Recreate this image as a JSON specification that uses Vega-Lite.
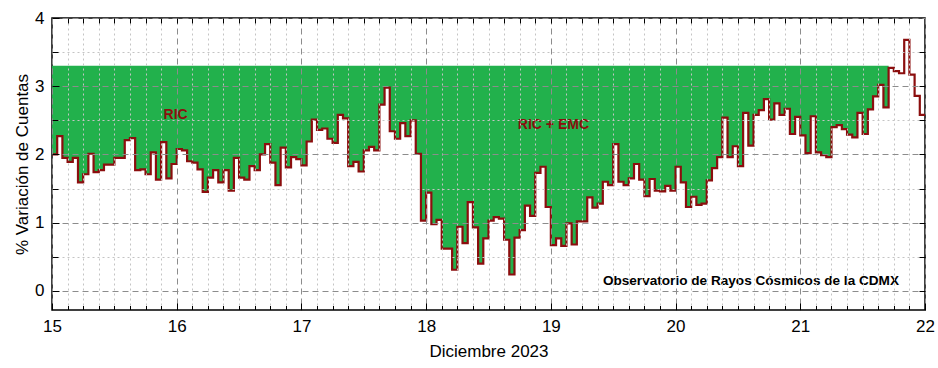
{
  "$schema": "https://vega.github.io/schema/vega-lite/v6.json",
  "width": 873,
  "height": 292,
  "autosize": {"type": "none"},
  "padding": {"left": 52, "top": 18, "right": 13, "bottom": 58},
  "background": "white",
  "config": {
    "view": {"stroke": "black", "strokeWidth": 1.5},
    "font": "Liberation Sans",
    "axis": {
      "labelFont": "Liberation Sans",
      "titleFont": "Liberation Sans",
      "labelFontSize": 17,
      "titleFontSize": 17,
      "labelColor": "black",
      "titleColor": "black",
      "titleFontWeight": "normal",
      "tickColor": "black",
      "tickWidth": 1,
      "domain": false
    }
  },
  "datasets": {
    "cr": [
      {"h": 0, "v": 2.00}, {"h": 1, "v": 2.27}, {"h": 2, "v": 1.95}, {"h": 3, "v": 1.89}, {"h": 4, "v": 1.95}, {"h": 5, "v": 1.59},
      {"h": 6, "v": 1.71}, {"h": 7, "v": 2.01}, {"h": 8, "v": 1.74}, {"h": 9, "v": 1.77}, {"h": 10, "v": 1.85}, {"h": 11, "v": 1.85},
      {"h": 12, "v": 1.95}, {"h": 13, "v": 1.95}, {"h": 14, "v": 2.21}, {"h": 15, "v": 2.24}, {"h": 16, "v": 1.77}, {"h": 17, "v": 1.78},
      {"h": 18, "v": 1.71}, {"h": 19, "v": 2.03}, {"h": 20, "v": 1.63}, {"h": 21, "v": 2.18}, {"h": 22, "v": 1.65}, {"h": 23, "v": 1.86},
      {"h": 24, "v": 2.08}, {"h": 25, "v": 2.06}, {"h": 26, "v": 1.90}, {"h": 27, "v": 1.88}, {"h": 28, "v": 1.78}, {"h": 29, "v": 1.45},
      {"h": 30, "v": 1.66}, {"h": 31, "v": 1.77}, {"h": 32, "v": 1.59}, {"h": 33, "v": 1.77}, {"h": 34, "v": 1.47}, {"h": 35, "v": 1.95},
      {"h": 36, "v": 1.66}, {"h": 37, "v": 1.63}, {"h": 38, "v": 1.83}, {"h": 39, "v": 1.77}, {"h": 40, "v": 2.00}, {"h": 41, "v": 2.15},
      {"h": 42, "v": 1.88}, {"h": 43, "v": 1.55}, {"h": 44, "v": 2.10}, {"h": 45, "v": 1.81}, {"h": 46, "v": 1.96}, {"h": 47, "v": 1.93},
      {"h": 48, "v": 1.84}, {"h": 49, "v": 2.19}, {"h": 50, "v": 2.51}, {"h": 51, "v": 2.36}, {"h": 52, "v": 2.38}, {"h": 53, "v": 2.23},
      {"h": 54, "v": 2.17}, {"h": 55, "v": 2.58}, {"h": 56, "v": 2.53}, {"h": 57, "v": 1.83}, {"h": 58, "v": 1.89}, {"h": 59, "v": 1.75},
      {"h": 60, "v": 2.06}, {"h": 61, "v": 2.11}, {"h": 62, "v": 2.06}, {"h": 63, "v": 2.73}, {"h": 64, "v": 2.98}, {"h": 65, "v": 2.34},
      {"h": 66, "v": 2.23}, {"h": 67, "v": 2.46}, {"h": 68, "v": 2.27}, {"h": 69, "v": 2.50}, {"h": 70, "v": 2.01}, {"h": 71, "v": 1.03},
      {"h": 72, "v": 1.44}, {"h": 73, "v": 0.98}, {"h": 74, "v": 1.04}, {"h": 75, "v": 0.62}, {"h": 76, "v": 0.62}, {"h": 77, "v": 0.31},
      {"h": 78, "v": 0.94}, {"h": 79, "v": 0.70}, {"h": 80, "v": 1.30}, {"h": 81, "v": 0.93}, {"h": 82, "v": 0.40}, {"h": 83, "v": 0.77},
      {"h": 84, "v": 1.03}, {"h": 85, "v": 1.08}, {"h": 86, "v": 1.06}, {"h": 87, "v": 0.75}, {"h": 88, "v": 0.24}, {"h": 89, "v": 0.78},
      {"h": 90, "v": 0.89}, {"h": 91, "v": 1.25}, {"h": 92, "v": 1.10}, {"h": 93, "v": 1.73}, {"h": 94, "v": 1.82}, {"h": 95, "v": 1.23},
      {"h": 96, "v": 0.67}, {"h": 97, "v": 0.77}, {"h": 98, "v": 0.66}, {"h": 99, "v": 0.99}, {"h": 100, "v": 0.68}, {"h": 101, "v": 1.02},
      {"h": 102, "v": 1.02}, {"h": 103, "v": 1.37}, {"h": 104, "v": 1.22}, {"h": 105, "v": 1.28}, {"h": 106, "v": 1.60}, {"h": 107, "v": 1.55},
      {"h": 108, "v": 2.15}, {"h": 109, "v": 1.60}, {"h": 110, "v": 1.55}, {"h": 111, "v": 1.65}, {"h": 112, "v": 1.86}, {"h": 113, "v": 1.63},
      {"h": 114, "v": 1.39}, {"h": 115, "v": 1.64}, {"h": 116, "v": 1.47}, {"h": 117, "v": 1.46}, {"h": 118, "v": 1.54}, {"h": 119, "v": 1.47},
      {"h": 120, "v": 1.82}, {"h": 121, "v": 1.59}, {"h": 122, "v": 1.23}, {"h": 123, "v": 1.38}, {"h": 124, "v": 1.26}, {"h": 125, "v": 1.28},
      {"h": 126, "v": 1.62}, {"h": 127, "v": 1.80}, {"h": 128, "v": 1.96}, {"h": 129, "v": 2.54}, {"h": 130, "v": 1.96}, {"h": 131, "v": 2.12},
      {"h": 132, "v": 1.83}, {"h": 133, "v": 2.61}, {"h": 134, "v": 2.13}, {"h": 135, "v": 2.58}, {"h": 136, "v": 2.65}, {"h": 137, "v": 2.81},
      {"h": 138, "v": 2.51}, {"h": 139, "v": 2.75}, {"h": 140, "v": 2.58}, {"h": 141, "v": 2.67}, {"h": 142, "v": 2.30}, {"h": 143, "v": 2.55},
      {"h": 144, "v": 2.28}, {"h": 145, "v": 2.02}, {"h": 146, "v": 2.56}, {"h": 147, "v": 2.03}, {"h": 148, "v": 1.99}, {"h": 149, "v": 1.96},
      {"h": 150, "v": 2.40}, {"h": 151, "v": 2.43}, {"h": 152, "v": 2.37}, {"h": 153, "v": 2.29}, {"h": 154, "v": 2.25}, {"h": 155, "v": 2.61},
      {"h": 156, "v": 2.30}, {"h": 157, "v": 2.66}, {"h": 158, "v": 2.85}, {"h": 159, "v": 3.02}, {"h": 160, "v": 2.69}, {"h": 161, "v": 3.27},
      {"h": 162, "v": 3.22}, {"h": 163, "v": 3.19}, {"h": 164, "v": 3.68}, {"h": 165, "v": 3.17}, {"h": 166, "v": 2.86}, {"h": 167, "v": 2.58},
      {"h": 168, "v": 2.58}
    ],
    "notas": [
      {"h": 23.8, "v": 2.58, "texto": "RIC"},
      {"h": 96.5, "v": 2.43, "texto": "RIC  + EMC"}
    ],
    "firma": [
      {"h": 163, "v": 0.15, "texto": "Observatorio de Rayos Cósmicos de la CDMX"}
    ]
  },
  "resolve": {"axis": {"x": "independent", "y": "independent"}},
  "layer": [
    {
      "data": {"name": "cr"},
      "transform": [{"filter": "datum.h <= 161"}],
      "mark": {"type": "area", "interpolate": "step-after", "color": "#22b14c"},
      "encoding": {
        "x": {
          "field": "h", "type": "quantitative",
          "scale": {"domain": [0, 168], "nice": false, "zero": false},
          "axis": {
            "orient": "bottom", "values": [3,6,9,12,15,18,21,27,30,33,36,39,42,45,51,54,57,60,63,66,69,75,78,81,84,87,90,93,99,102,105,108,111,114,117,123,126,129,132,135,138,141,147,150,153,156,159,162,165],
            "labels": false, "title": null, "grid": true, "gridColor": "#c4c4c4", "gridDash": [2, 3], "gridWidth": 1,
            "ticks": true, "tickSize": -4.5, "zindex": 1
          }
        },
        "y": {
          "field": "v", "type": "quantitative",
          "scale": {"domain": [-0.28, 4], "nice": false, "zero": false},
          "axis": {
            "orient": "left", "values": [0.5, 1.5, 2.5, 3.5],
            "labels": false, "title": null, "grid": true, "gridColor": "#c4c4c4", "gridDash": [2, 3], "gridWidth": 1,
            "ticks": true, "tickSize": -6, "zindex": 1
          }
        },
        "y2": {"datum": 3.3}
      }
    },
    {
      "data": {"name": "cr"},
      "mark": {"type": "line", "interpolate": "step-after", "stroke": "#8b0e0e", "strokeWidth": 2.2},
      "encoding": {
        "x": {
          "field": "h", "type": "quantitative",
          "scale": {"domain": [0, 168], "nice": false, "zero": false},
          "axis": {
            "orient": "bottom", "values": [0, 24, 48, 72, 96, 120, 144, 168],
            "labelExpr": "15 + datum.value / 24", "labelPadding": 15, "labelFlush": false,
            "title": "Diciembre 2023", "titlePadding": 9,
            "grid": true, "gridColor": "#8c8c8c", "gridDash": [6, 4], "gridWidth": 1,
            "ticks": true, "tickSize": -7, "zindex": 1
          }
        },
        "y": {
          "field": "v", "type": "quantitative",
          "scale": {"domain": [-0.28, 4], "nice": false, "zero": false},
          "axis": {
            "orient": "left", "values": [0, 1, 2, 3, 4],
            "labelPadding": 15, "title": "% Variación de Cuentas", "titlePadding": 3,
            "grid": true, "gridColor": "#8c8c8c", "gridDash": [6, 4], "gridWidth": 1,
            "ticks": true, "tickSize": -7, "zindex": 1
          }
        }
      }
    },
    {
      "data": {"name": "cr"},
      "mark": {"type": "point", "opacity": 0},
      "encoding": {
        "x": {
          "field": "h", "type": "quantitative",
          "scale": {"domain": [0, 168], "nice": false, "zero": false},
          "axis": {
            "orient": "top", "values": [3,6,9,12,15,18,21,24,27,30,33,36,39,42,45,48,51,54,57,60,63,66,69,72,75,78,81,84,87,90,93,96,99,102,105,108,111,114,117,120,123,126,129,132,135,138,141,144,147,150,153,156,159,162,165],
            "labels": false, "title": null, "grid": false, "ticks": true, "tickSize": -5, "zindex": 1
          }
        },
        "y": {
          "field": "v", "type": "quantitative",
          "scale": {"domain": [-0.28, 4], "nice": false, "zero": false},
          "axis": {
            "orient": "right", "values": [0, 0.5, 1, 1.5, 2, 2.5, 3, 3.5],
            "labels": false, "title": null, "grid": false, "ticks": true, "tickSize": -6, "zindex": 1
          }
        }
      }
    },
    {
      "data": {"name": "notas"},
      "mark": {"type": "text", "font": "Liberation Sans", "fontSize": 14, "fontWeight": "bold", "color": "#8b0e0e", "align": "center", "baseline": "middle"},
      "encoding": {
        "x": {"field": "h", "type": "quantitative", "axis": null},
        "y": {"field": "v", "type": "quantitative", "axis": null},
        "text": {"field": "texto"}
      }
    },
    {
      "data": {"name": "firma"},
      "mark": {"type": "text", "font": "Liberation Sans", "fontSize": 13.6, "fontWeight": "bold", "color": "black", "align": "right", "baseline": "middle"},
      "encoding": {
        "x": {"field": "h", "type": "quantitative", "axis": null},
        "y": {"field": "v", "type": "quantitative", "axis": null},
        "text": {"field": "texto"}
      }
    }
  ]
}
